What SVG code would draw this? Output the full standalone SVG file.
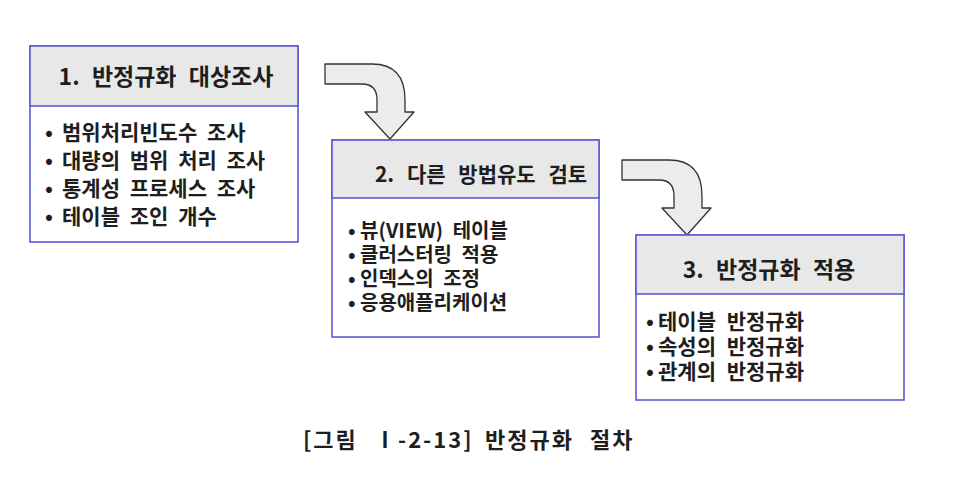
<svg xmlns="http://www.w3.org/2000/svg" width="960" height="492" viewBox="0 0 960 492">
<style>
.box{fill:#ffffff;stroke:#5b5bd6;stroke-width:1.6}
.hdr{fill:#e8e8e8;stroke:#5b5bd6;stroke-width:1.6}
.t{font-family:"Noto Sans CJK KR","Noto Sans",sans-serif;fill:#1e1e1e;font-weight:bold}
.ttl{font-size:23px;word-spacing:7px}
.ttl2{font-size:21px;word-spacing:8px}
.b1{font-size:21px;word-spacing:5px}
.b2{font-size:20px;word-spacing:5px}
.b3{font-size:21px;word-spacing:6px}
.arrow{fill:#ececec;stroke:#333;stroke-width:1.3;stroke-linejoin:round}
.cap{font-size:22px;letter-spacing:2px}
</style>
<rect width="960" height="492" fill="#ffffff"/>
<g id="connectors">
<path id="arrow1" class="arrow" d="M325,64 L372,64 Q405,64 405,100 L405,112 L414,112 L390,139 L365,112 L377,112 L377,100 Q377,84 362,84 L325,84 Z"/>
<path id="arrow2" class="arrow" transform="translate(297,96)" d="M325,64 L372,64 Q405,64 405,100 L405,112 L414,112 L390,139 L365,112 L377,112 L377,100 Q377,84 362,84 L325,84 Z"/>
</g>
<g id="node1">
<rect class="box" x="30" y="46" width="268" height="196"/>
<rect class="hdr" x="30" y="46" width="268" height="60"/>
<text class="t ttl" x="166" y="85" text-anchor="middle">1. 반정규화 대상조사</text>
<text class="t b1"><tspan x="45" y="140">•</tspan><tspan x="62" y="140">범위처리빈도수 조사</tspan><tspan x="45" y="168">•</tspan><tspan x="62" y="168">대량의 범위 처리 조사</tspan><tspan x="45" y="196">•</tspan><tspan x="62" y="196">통계성 프로세스 조사</tspan><tspan x="45" y="224">•</tspan><tspan x="62" y="224">테이블 조인 개수</tspan></text>
</g>
<g id="node2">
<rect class="box" x="332" y="140" width="267" height="197"/>
<rect class="hdr" x="332" y="140" width="267" height="58"/>
<text class="t ttl2" x="481" y="182" text-anchor="middle">2. 다른 방법유도 검토</text>
<text class="t b2"><tspan x="348" y="238">•</tspan><tspan x="360" y="238">뷰(VIEW) 테이블</tspan><tspan x="348" y="262">•</tspan><tspan x="360" y="262">클러스터링 적용</tspan><tspan x="348" y="286">•</tspan><tspan x="360" y="286">인덱스의 조정</tspan><tspan x="348" y="310">•</tspan><tspan x="360" y="310">응용애플리케이션</tspan></text>
</g>
<g id="node3">
<rect class="box" x="636" y="235" width="268" height="165"/>
<rect class="hdr" x="636" y="235" width="268" height="59"/>
<text class="t ttl" x="769" y="278" text-anchor="middle">3. 반정규화 적용</text>
<text class="t b3"><tspan x="646" y="329">•</tspan><tspan x="658" y="329">테이블 반정규화</tspan><tspan x="646" y="354">•</tspan><tspan x="658" y="354">속성의 반정규화</tspan><tspan x="646" y="379">•</tspan><tspan x="658" y="379">관계의 반정규화</tspan></text>
</g>
<text id="caption" class="t cap" y="448"><tspan x="303">[그림 </tspan><tspan x="374">Ⅰ-2-13] </tspan><tspan x="485">반정규화 </tspan><tspan x="590">절차</tspan></text>
</svg>
